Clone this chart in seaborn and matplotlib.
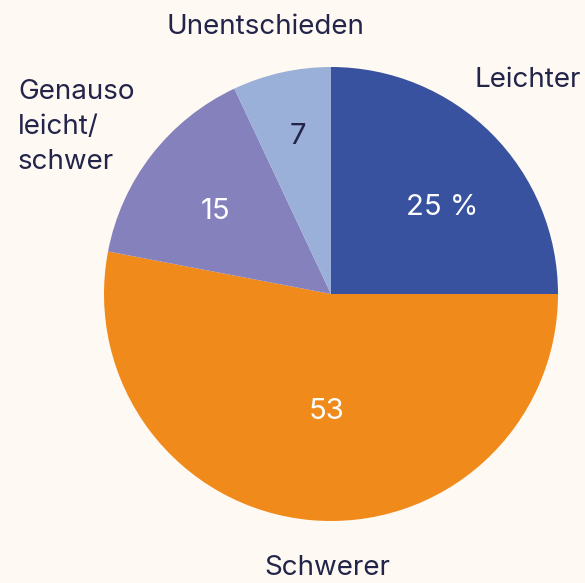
import numpy as np
import matplotlib.pyplot as plt
import seaborn as sns

sns.set_theme(style='white')
plt.rcParams['font.family'] = ['Inter', 'DejaVu Sans']

categories = ['Leichter', 'Unentschieden', 'Genauso\nleicht/\nschwer', 'Schwerer']
# values in clockwise order from 12 o'clock
order = ['Leichter', 'Schwerer', 'Genauso\nleicht/\nschwer', 'Unentschieden']
values = [25, 53, 15, 7]
value_labels = ['25 %', '53', '15', '7']
colors = ['#38529f', '#f08a1a', '#8581bd', '#9bb0d8']
text_colors = ['white', 'white', 'white', '#23244a']
bg = '#fefaf3'
navy = '#23244a'

fig = plt.figure(figsize=(5.85, 5.83), dpi=100, facecolor=bg)
ax = fig.add_axes([104 / 585, 62 / 583, 454 / 585, 454 / 583])
ax.set_facecolor(bg)

wedges, _, autotexts = ax.pie(values, colors=colors, startangle=90,
                              counterclock=False, autopct='%1.0f',
                              pctdistance=0.62, radius=1,
                              wedgeprops=dict(linewidth=0))
ax.set_xlim(-1, 1)
ax.set_ylim(-1, 1)
ax.set_aspect('equal')
ax.axis('off')

# label placement: distance from centre and angular nudge (deg)
dists = [0.62, 0.52, 0.625, 0.71]
nudges = [-7, 3, 2, -0.7]
for w, t, lbl, tc, d, n in zip(wedges, autotexts, value_labels, text_colors,
                               dists, nudges):
    ang = np.deg2rad((w.theta1 + w.theta2) / 2 + n)
    t.set_position((d * np.cos(ang), d * np.sin(ang)))
    t.set_text(lbl)
    t.set_color(tc)
    t.set_fontsize(21)

fig.text(265 / 585, 1 - 27 / 583, 'Unentschieden', ha='center', va='center',
         fontsize=20, color=navy)
fig.text(581 / 585, 1 - 80 / 583, 'Leichter', ha='right', va='center',
         fontsize=20, color=navy)
fig.text(18 / 585, 1 - 127 / 583, 'Genauso\nleicht/\nschwer', ha='left',
         va='center', fontsize=20, color=navy, linespacing=1.45)
fig.text(327 / 585, 1 - 568 / 583, 'Schwerer', ha='center', va='center',
         fontsize=20, color=navy)

fig.savefig('out.png', dpi=100, facecolor=bg)
